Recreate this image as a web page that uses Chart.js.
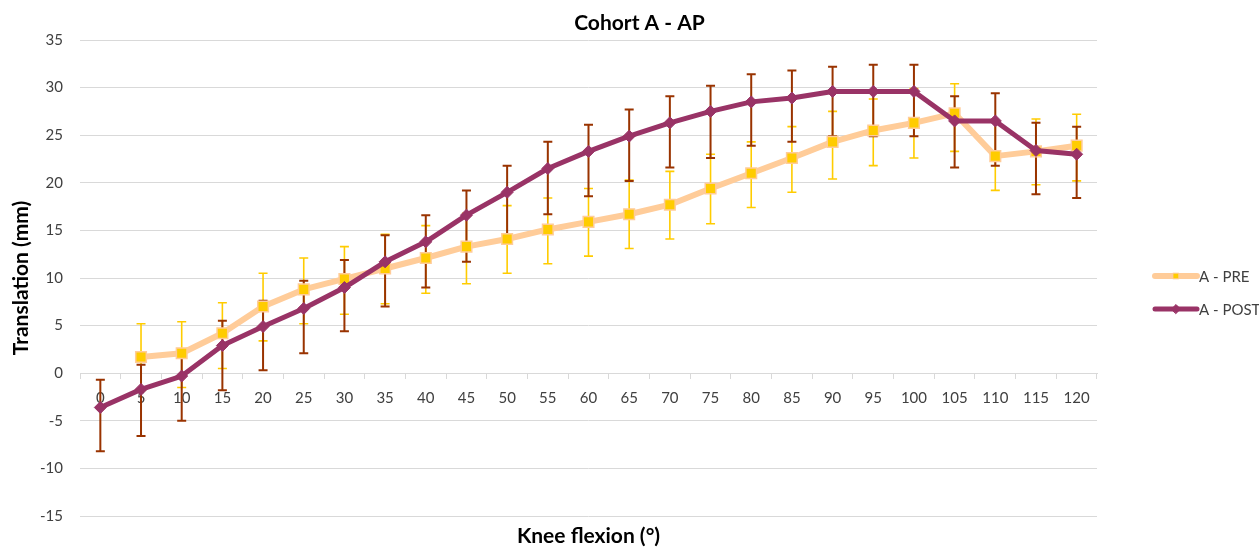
<!DOCTYPE html>
<html>
<head>
<meta charset="utf-8">
<script src="https://cdn.jsdelivr.net/npm/chart.js@4.4.1/dist/chart.umd.min.js"></script>
<style>
  html, body { margin: 0; padding: 0; background: #fff; }
  #wrap { width: 1259px; height: 547px; }
</style>
</head>
<body>
<div id="wrap"><canvas id="c" width="1259" height="547"></canvas></div>
<script>
// ---- data ----
const kneeFlexion = ['0','5','10','15','20','25','30','35','40','45','50','55','60','65','70','75','80','85','90','95','100','105','110','115','120'];
const yTicks = [-15, -10, -5, 0, 5, 10, 15, 20, 25, 30, 35];

const preLabel = 'A - PRE';
const preValues = [null, 1.7, 2.1, 4.2, 7.0, 8.8, 9.9, 11.0, 12.1, 13.3, 14.1, 15.1, 15.9, 16.7, 17.7, 19.4, 21.0, 22.6, 24.3, 25.5, 26.3, 27.3, 22.8, 23.3, 23.9];
const preHigh   = [null, 5.2, 5.4, 7.4, 10.5, 12.1, 13.3, 14.6, 15.5, 16.8, 17.6, 18.4, 19.4, 20.3, 21.2, 23.0, 24.3, 25.9, 27.5, 28.8, 29.9, 30.4, 26.4, 26.7, 27.2];
const preLow    = [null, -1.8, -1.5, 0.5, 3.4, 5.2, 6.2, 7.3, 8.4, 9.4, 10.5, 11.5, 12.3, 13.1, 14.1, 15.7, 17.4, 19.0, 20.4, 21.8, 22.6, 23.3, 19.2, 19.8, 20.2];

const postLabel = 'A - POST';
const postValues = [-3.6, -1.7, -0.3, 2.9, 4.9, 6.8, 9.0, 11.7, 13.8, 16.6, 19.0, 21.5, 23.3, 24.9, 26.3, 27.5, 28.5, 28.9, 29.6, 29.6, 29.6, 26.5, 26.5, 23.4, 23.0];
const postHigh   = [-0.7, 0.9, 2.4, 5.5, 7.6, 9.7, 11.9, 14.5, 16.6, 19.2, 21.8, 24.3, 26.1, 27.7, 29.1, 30.2, 31.4, 31.8, 32.2, 32.4, 32.4, 29.1, 29.4, 26.3, 25.9];
const postLow    = [-8.2, -6.6, -5.0, -1.8, 0.3, 2.1, 4.4, 7.0, 9.0, 11.7, 14.3, 16.7, 18.6, 20.2, 21.6, 22.6, 23.9, 24.3, 24.9, 24.9, 24.9, 21.6, 21.8, 18.8, 18.4];

// ---- styling ----
const FONT = 'Lato, "Open Sans", sans-serif';
const TEXT = '#404040';
const GRID = '#d9d9d9';

const errorBars = {
  id: 'errorBars',
  beforeDatasetsDraw(chart) {
    const ctx = chart.ctx;
    const yScale = chart.scales.y;
    chart.data.datasets.forEach((ds, i) => {
      if (!ds.errHigh) return;
      const meta = chart.getDatasetMeta(i);
      ctx.save();
      ctx.strokeStyle = ds.errColor;
      ctx.lineWidth = ds.errWidth;
      meta.data.forEach((pt, j) => {
        if (ds.data[j] == null || ds.errHigh[j] == null) return;
        const x = pt.x;
        const yh = yScale.getPixelForValue(ds.errHigh[j]);
        const yl = yScale.getPixelForValue(ds.errLow[j]);
        const cap = 4.5;
        ctx.beginPath();
        ctx.moveTo(x, yh); ctx.lineTo(x, yl);
        ctx.moveTo(x - cap, yh); ctx.lineTo(x + cap, yh);
        ctx.moveTo(x - cap, yl); ctx.lineTo(x + cap, yl);
        ctx.stroke();
      });
      ctx.restore();
    });
  }
};

const sideLegend = {
  id: 'sideLegend',
  afterDraw(chart) {
    const ctx = chart.ctx;
    const rows = [276, 309];
    const x0 = 1155, x1 = 1197;
    chart.data.datasets.forEach((ds, i) => {
      const y = rows[i];
      ctx.save();
      ctx.strokeStyle = ds.borderColor;
      ctx.lineWidth = ds.borderWidth;
      ctx.lineCap = 'round';
      ctx.beginPath(); ctx.moveTo(x0, y); ctx.lineTo(x1, y); ctx.stroke();
      ctx.fillStyle = ds.pointBackgroundColor;
      ctx.strokeStyle = ds.pointBorderColor;
      ctx.lineWidth = 1;
      Chart.helpers.drawPoint(ctx, { pointStyle: ds.pointStyle, radius: ds.legendRadius, borderWidth: 1, rotation: 0 }, (x0 + x1) / 2, y);
      ctx.fillStyle = TEXT;
      ctx.font = '15px ' + FONT;
      ctx.textBaseline = 'middle';
      ctx.textAlign = 'left';
      ctx.fillText(ds.label, 1199, y + 1);
      ctx.restore();
    });
  }
};

new Chart(document.getElementById('c'), {
  type: 'line',
  data: {
    labels: kneeFlexion,
    datasets: [
      {
        label: preLabel,
        data: preValues,
        errHigh: preHigh, errLow: preLow,
        errColor: '#ffcc00', errWidth: 1.6,
        borderColor: '#ffcc99',
        borderWidth: 6,
        pointStyle: 'rect',
        pointRadius: 7.5,
        pointBackgroundColor: '#ffcc00',
        pointBorderColor: '#ffcc99',
        pointBorderWidth: 1.5,
        legendRadius: 4,
        tension: 0,
        borderJoinStyle: 'round',
        borderCapStyle: 'round',
        order: 2
      },
      {
        label: postLabel,
        data: postValues,
        errHigh: postHigh, errLow: postLow,
        errColor: '#993300', errWidth: 2,
        borderColor: '#993366',
        borderWidth: 5,
        pointStyle: 'rectRot',
        pointRadius: 6,
        pointBackgroundColor: '#993366',
        pointBorderColor: '#993366',
        pointBorderWidth: 1,
        legendRadius: 4.5,
        tension: 0,
        borderJoinStyle: 'round',
        borderCapStyle: 'round',
        order: 1
      }
    ]
  },
  options: {
    responsive: false,
    animation: false,
    events: [],
    spanGaps: false,
    layout: { padding: { left: 20, right: 0, top: 0, bottom: 0 } },
    plugins: {
      legend: { display: false },
      tooltip: { enabled: false },
      title: {
        display: true,
        text: 'Cohort A - AP',
        color: '#000',
        font: { family: FONT, size: 21, weight: 'bold', lineHeight: 1 },
        padding: { top: 13, bottom: 6 }
      },
      subtitle: {
        display: true,
        position: 'bottom',
        fullSize: false,
        text: 'Knee flexion (°)',
        color: '#000',
        font: { family: FONT, size: 21, weight: 'bold', lineHeight: 1 },
        padding: { top: 10, bottom: 0 }
      }
    },
    scales: {
      x: {
        type: 'category',
        position: { y: 0 },
        offset: true,
        grid: {
          display: true,
          drawOnChartArea: false,
          drawTicks: true,
          tickLength: 5,
          offset: true,
          color: GRID
        },
        border: { display: true, color: GRID, width: 1 },
        ticks: {
          color: TEXT,
          font: { family: FONT, size: 15 },
          padding: 11,
          maxRotation: 0,
          autoSkip: false
        }
      },
      y: {
        min: -15,
        max: 35,
        afterFit(scale) { scale.width = 60; },
        afterBuildTicks(scale) { scale.ticks = yTicks.map(v => ({ value: v })); },
        grid: { color: GRID, lineWidth: 1, drawTicks: false },
        border: { display: false },
        ticks: {
          color: TEXT,
          font: { family: FONT, size: 15 },
          padding: 17
        },
        title: {
          display: true,
          text: 'Translation (mm)',
          color: '#000',
          font: { family: FONT, size: 21, weight: 'bold', lineHeight: 1 },
          padding: { top: -9, bottom: 0 }
        }
      },
      yRight: {
        type: 'linear',
        position: 'right',
        afterFit(scale) { scale.width = 162; },
        grid: { display: false },
        border: { display: false },
        ticks: { display: false }
      }
    }
  },
  plugins: [errorBars, sideLegend]
});
</script>
</body>
</html>
